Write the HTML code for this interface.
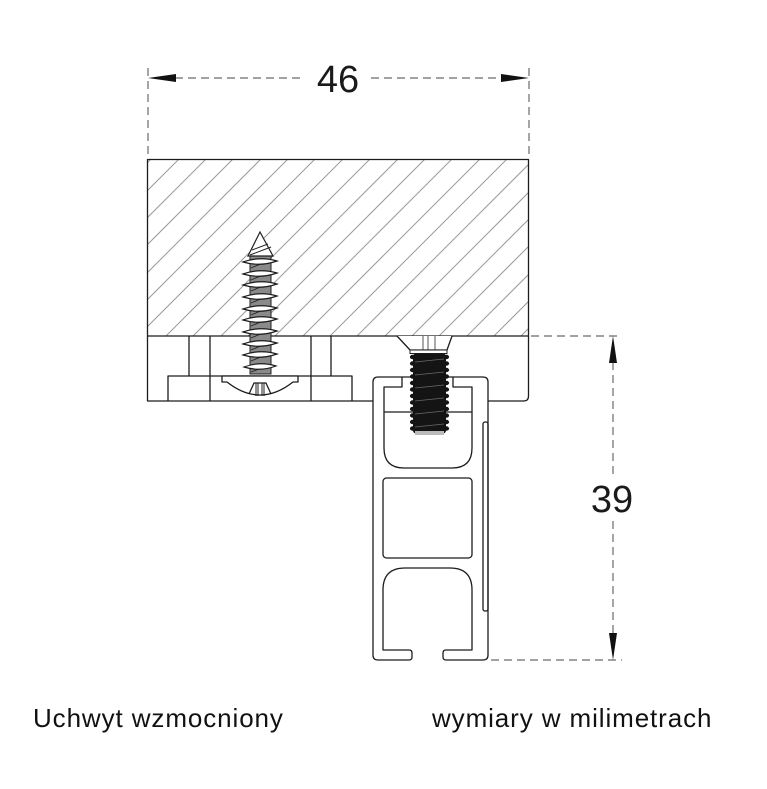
<!DOCTYPE html>
<html>
<head>
<meta charset="utf-8">
<style>
  html,body{margin:0;padding:0;background:#fff;}
  svg{display:block;}
  .ln{stroke:#1c1c1c;stroke-width:1.3;fill:none;stroke-linejoin:round;}
  .dash{stroke:#6a6a6a;stroke-width:1.2;stroke-dasharray:8 5;fill:none;}
  .htch{stroke:#9a9a9a;stroke-width:1;}
  .lbl{font-family:"Liberation Sans",Arial,sans-serif;font-size:26px;letter-spacing:0.9px;fill:#111;}
  .dim{font-family:"Liberation Sans",Arial,sans-serif;font-size:38px;fill:#1a1a1a;}
</style>
</head>
<body>
<svg width="767" height="789" viewBox="0 0 767 789" xmlns="http://www.w3.org/2000/svg">
  <defs>
    <clipPath id="wood"><rect x="148" y="160" width="380" height="176"/></clipPath>
  </defs>

  <!-- wood hatching -->
  <g clip-path="url(#wood)" class="htch">
    <line x1="-90" y1="400" x2="210" y2="100"/>
    <line x1="-62" y1="400" x2="238" y2="100"/>
    <line x1="-35" y1="400" x2="265" y2="100"/>
    <line x1="-8" y1="400" x2="292" y2="100"/>
    <line x1="20" y1="400" x2="320" y2="100"/>
    <line x1="47" y1="400" x2="347" y2="100"/>
    <line x1="74" y1="400" x2="374" y2="100"/>
    <line x1="102" y1="400" x2="402" y2="100"/>
    <line x1="129" y1="400" x2="429" y2="100"/>
    <line x1="157" y1="400" x2="457" y2="100"/>
    <line x1="184" y1="400" x2="484" y2="100"/>
    <line x1="211" y1="400" x2="511" y2="100"/>
    <line x1="239" y1="400" x2="539" y2="100"/>
    <line x1="266" y1="400" x2="566" y2="100"/>
    <line x1="293" y1="400" x2="593" y2="100"/>
    <line x1="321" y1="400" x2="621" y2="100"/>
    <line x1="348" y1="400" x2="648" y2="100"/>
    <line x1="375" y1="400" x2="675" y2="100"/>
    <line x1="403" y1="400" x2="703" y2="100"/>
    <line x1="430" y1="400" x2="730" y2="100"/>
    <line x1="457" y1="400" x2="757" y2="100"/>
    <line x1="485" y1="400" x2="785" y2="100"/>
  </g>
  <rect x="147.5" y="159.5" width="381" height="176.5" class="ln"/>

  <!-- left bracket part -->
  <path class="ln" d="M147.5,336 V401 H373"/>
  <path class="ln" d="M189,336 V376"/>
  <path class="ln" d="M210,336 V401"/>
  <path class="ln" d="M168,401 V376 H352 V401"/>
  <path class="ln" d="M311,336 V401"/>
  <path class="ln" d="M331,336 V376"/>
  <!-- right bracket part -->
  <path class="ln" d="M528.5,336 V396 Q528.5,401 523.5,401 H488"/>

  <!-- profile -->
  <path class="ln" style="fill:#fff" d="M378,377 H483 Q488,377 488,382 V655 Q488,660 483,660 H446 Q443,660 443,657 V653 Q443,650 446,650 H472 V590 Q472,568 450,568 H405 Q383,568 383,590 V650 H409 Q412,650 412,653 V657 Q412,660 409,660 H378 Q373,660 373,655 V382 Q373,377 378,377 Z"/>
  <!-- upper cavity -->
  <path class="ln" d="M402,377 V387 H384 V448 Q384,468 404,468 H452 Q472,468 472,448 V387 H453 V377"/>
  <path class="ln" d="M384,412 H472"/>
  <!-- middle cavity -->
  <rect x="383" y="478" width="89" height="80" rx="3.5" class="ln"/>
  <!-- right strip -->
  <rect x="483" y="422" width="5" height="189" rx="2" class="ln"/>

  <!-- wood screw -->
  <g>
    <rect x="250" y="252" width="21" height="122" fill="#8a8a8a" stroke="#222" stroke-width="1"/>
    <path d="M260,232 L248,256 L273,256 Z" fill="#fff" stroke="#222" stroke-width="1.2"/>
    <path d="M252,250 L268,244 M250,255 L271,247" stroke="#222" stroke-width="1"/>
    <g stroke="#222" stroke-width="0.9">
      <line x1="251" y1="268" x2="270" y2="260"/>
      <line x1="251" y1="280" x2="270" y2="272"/>
      <line x1="251" y1="291" x2="270" y2="283"/>
      <line x1="251" y1="303" x2="270" y2="295"/>
      <line x1="251" y1="315" x2="270" y2="307"/>
      <line x1="251" y1="326" x2="270" y2="318"/>
      <line x1="251" y1="338" x2="270" y2="330"/>
      <line x1="251" y1="350" x2="270" y2="342"/>
      <line x1="251" y1="361" x2="270" y2="353"/>
      <line x1="251" y1="372" x2="270" y2="365"/>
    </g>
    <g fill="#fff" stroke="#1c1c1c" stroke-width="1.2">
      <path d="M243,262 Q260,256 277,261 Q260,267 243,262 Z"/>
      <path d="M243,274 Q260,268 277,273 Q260,279 243,274 Z"/>
      <path d="M243,285 Q260,279 277,284 Q260,290 243,285 Z"/>
      <path d="M243,297 Q260,291 277,296 Q260,302 243,297 Z"/>
      <path d="M243,309 Q260,303 277,308 Q260,314 243,309 Z"/>
      <path d="M243,320 Q260,314 277,319 Q260,325 243,320 Z"/>
      <path d="M243,332 Q260,326 277,331 Q260,337 243,332 Z"/>
      <path d="M243,344 Q260,338 277,343 Q260,349 243,344 Z"/>
      <path d="M243,355 Q260,349 277,354 Q260,360 243,355 Z"/>
      <path d="M244,367 Q260,361 276,366 Q260,372 244,367 Z"/>
    </g>
    <!-- head / washer -->
    <path class="ln" style="fill:#fff" d="M222,376 V382 H227 Q260,408 293,382 H298 V376 Z"/>
    <path class="ln" d="M249,394 L254,383 H266 L271,394"/>
    <path d="M256,383 V396 M258,383 V396 M262,383 V396 M264,383 V396" stroke="#222" stroke-width="1"/>
  </g>

  <!-- machine screw -->
  <g>
    <path class="ln" style="fill:#fff" d="M397,336 L410,350 L447,350 L452,336"/>
    <path d="M423,336 V350 M428,336 V350 M435,336 V350" stroke="#555" stroke-width="1"/>
    <rect x="410" y="350" width="37" height="3.5" fill="#fff" stroke="#222" stroke-width="1"/>
    <rect x="413" y="353.5" width="33" height="80" rx="3" fill="#141414"/>
    <g fill="#141414">
      <ellipse cx="412.5" cy="357" rx="2.6" ry="2.2"/><ellipse cx="446.5" cy="357" rx="2.6" ry="2.2"/>
      <ellipse cx="412.5" cy="363.5" rx="2.6" ry="2.2"/><ellipse cx="446.5" cy="363.5" rx="2.6" ry="2.2"/>
      <ellipse cx="412.5" cy="370" rx="2.6" ry="2.2"/><ellipse cx="446.5" cy="370" rx="2.6" ry="2.2"/>
      <ellipse cx="412.5" cy="376.5" rx="2.6" ry="2.2"/><ellipse cx="446.5" cy="376.5" rx="2.6" ry="2.2"/>
      <ellipse cx="412.5" cy="383" rx="2.6" ry="2.2"/><ellipse cx="446.5" cy="383" rx="2.6" ry="2.2"/>
      <ellipse cx="412.5" cy="389.5" rx="2.6" ry="2.2"/><ellipse cx="446.5" cy="389.5" rx="2.6" ry="2.2"/>
      <ellipse cx="412.5" cy="396" rx="2.6" ry="2.2"/><ellipse cx="446.5" cy="396" rx="2.6" ry="2.2"/>
      <ellipse cx="412.5" cy="402.5" rx="2.6" ry="2.2"/><ellipse cx="446.5" cy="402.5" rx="2.6" ry="2.2"/>
      <ellipse cx="412.5" cy="409" rx="2.6" ry="2.2"/><ellipse cx="446.5" cy="409" rx="2.6" ry="2.2"/>
      <ellipse cx="412.5" cy="415.5" rx="2.6" ry="2.2"/><ellipse cx="446.5" cy="415.5" rx="2.6" ry="2.2"/>
      <ellipse cx="412.5" cy="422" rx="2.6" ry="2.2"/><ellipse cx="446.5" cy="422" rx="2.6" ry="2.2"/>
      <ellipse cx="412.5" cy="428.5" rx="2.6" ry="2.2"/><ellipse cx="446.5" cy="428.5" rx="2.6" ry="2.2"/>
    </g>
    <g stroke="#6a6a6a" stroke-width="0.7">
      <line x1="415" y1="362" x2="444" y2="359"/>
      <line x1="415" y1="375" x2="444" y2="372"/>
      <line x1="415" y1="388" x2="444" y2="385"/>
      <line x1="415" y1="401" x2="444" y2="398"/>
      <line x1="415" y1="414" x2="444" y2="411"/>
      <line x1="415" y1="427" x2="444" y2="424"/>
    </g>
    <rect x="415" y="431" width="29" height="4" fill="#bbb"/>
  </g>

  <!-- dimension 46 -->
  <path class="dash" d="M148,68 V158"/>
  <path class="dash" d="M529,68 V158"/>
  <path class="dash" d="M175,78 H303"/>
  <path class="dash" d="M371,78 H502"/>
  <polygon points="148,78 176,74 176,82" fill="#111"/>
  <polygon points="529,78 501,74 501,82" fill="#111"/>
  <text x="338" y="92" text-anchor="middle" class="dim">46</text>

  <!-- dimension 39 -->
  <path class="dash" d="M531,336 H622"/>
  <path class="dash" d="M491,660 H622"/>
  <path class="dash" d="M613,362 V477"/>
  <path class="dash" d="M613,521 V633"/>
  <polygon points="613,336 609,363 617,363" fill="#111"/>
  <polygon points="613,660 609,633 617,633" fill="#111"/>
  <text x="612" y="512" text-anchor="middle" class="dim">39</text>

  <!-- labels -->
  <text x="33" y="727" class="lbl">Uchwyt wzmocniony</text>
  <text x="432" y="727" class="lbl">wymiary w milimetrach</text>
</svg>
</body>
</html>
